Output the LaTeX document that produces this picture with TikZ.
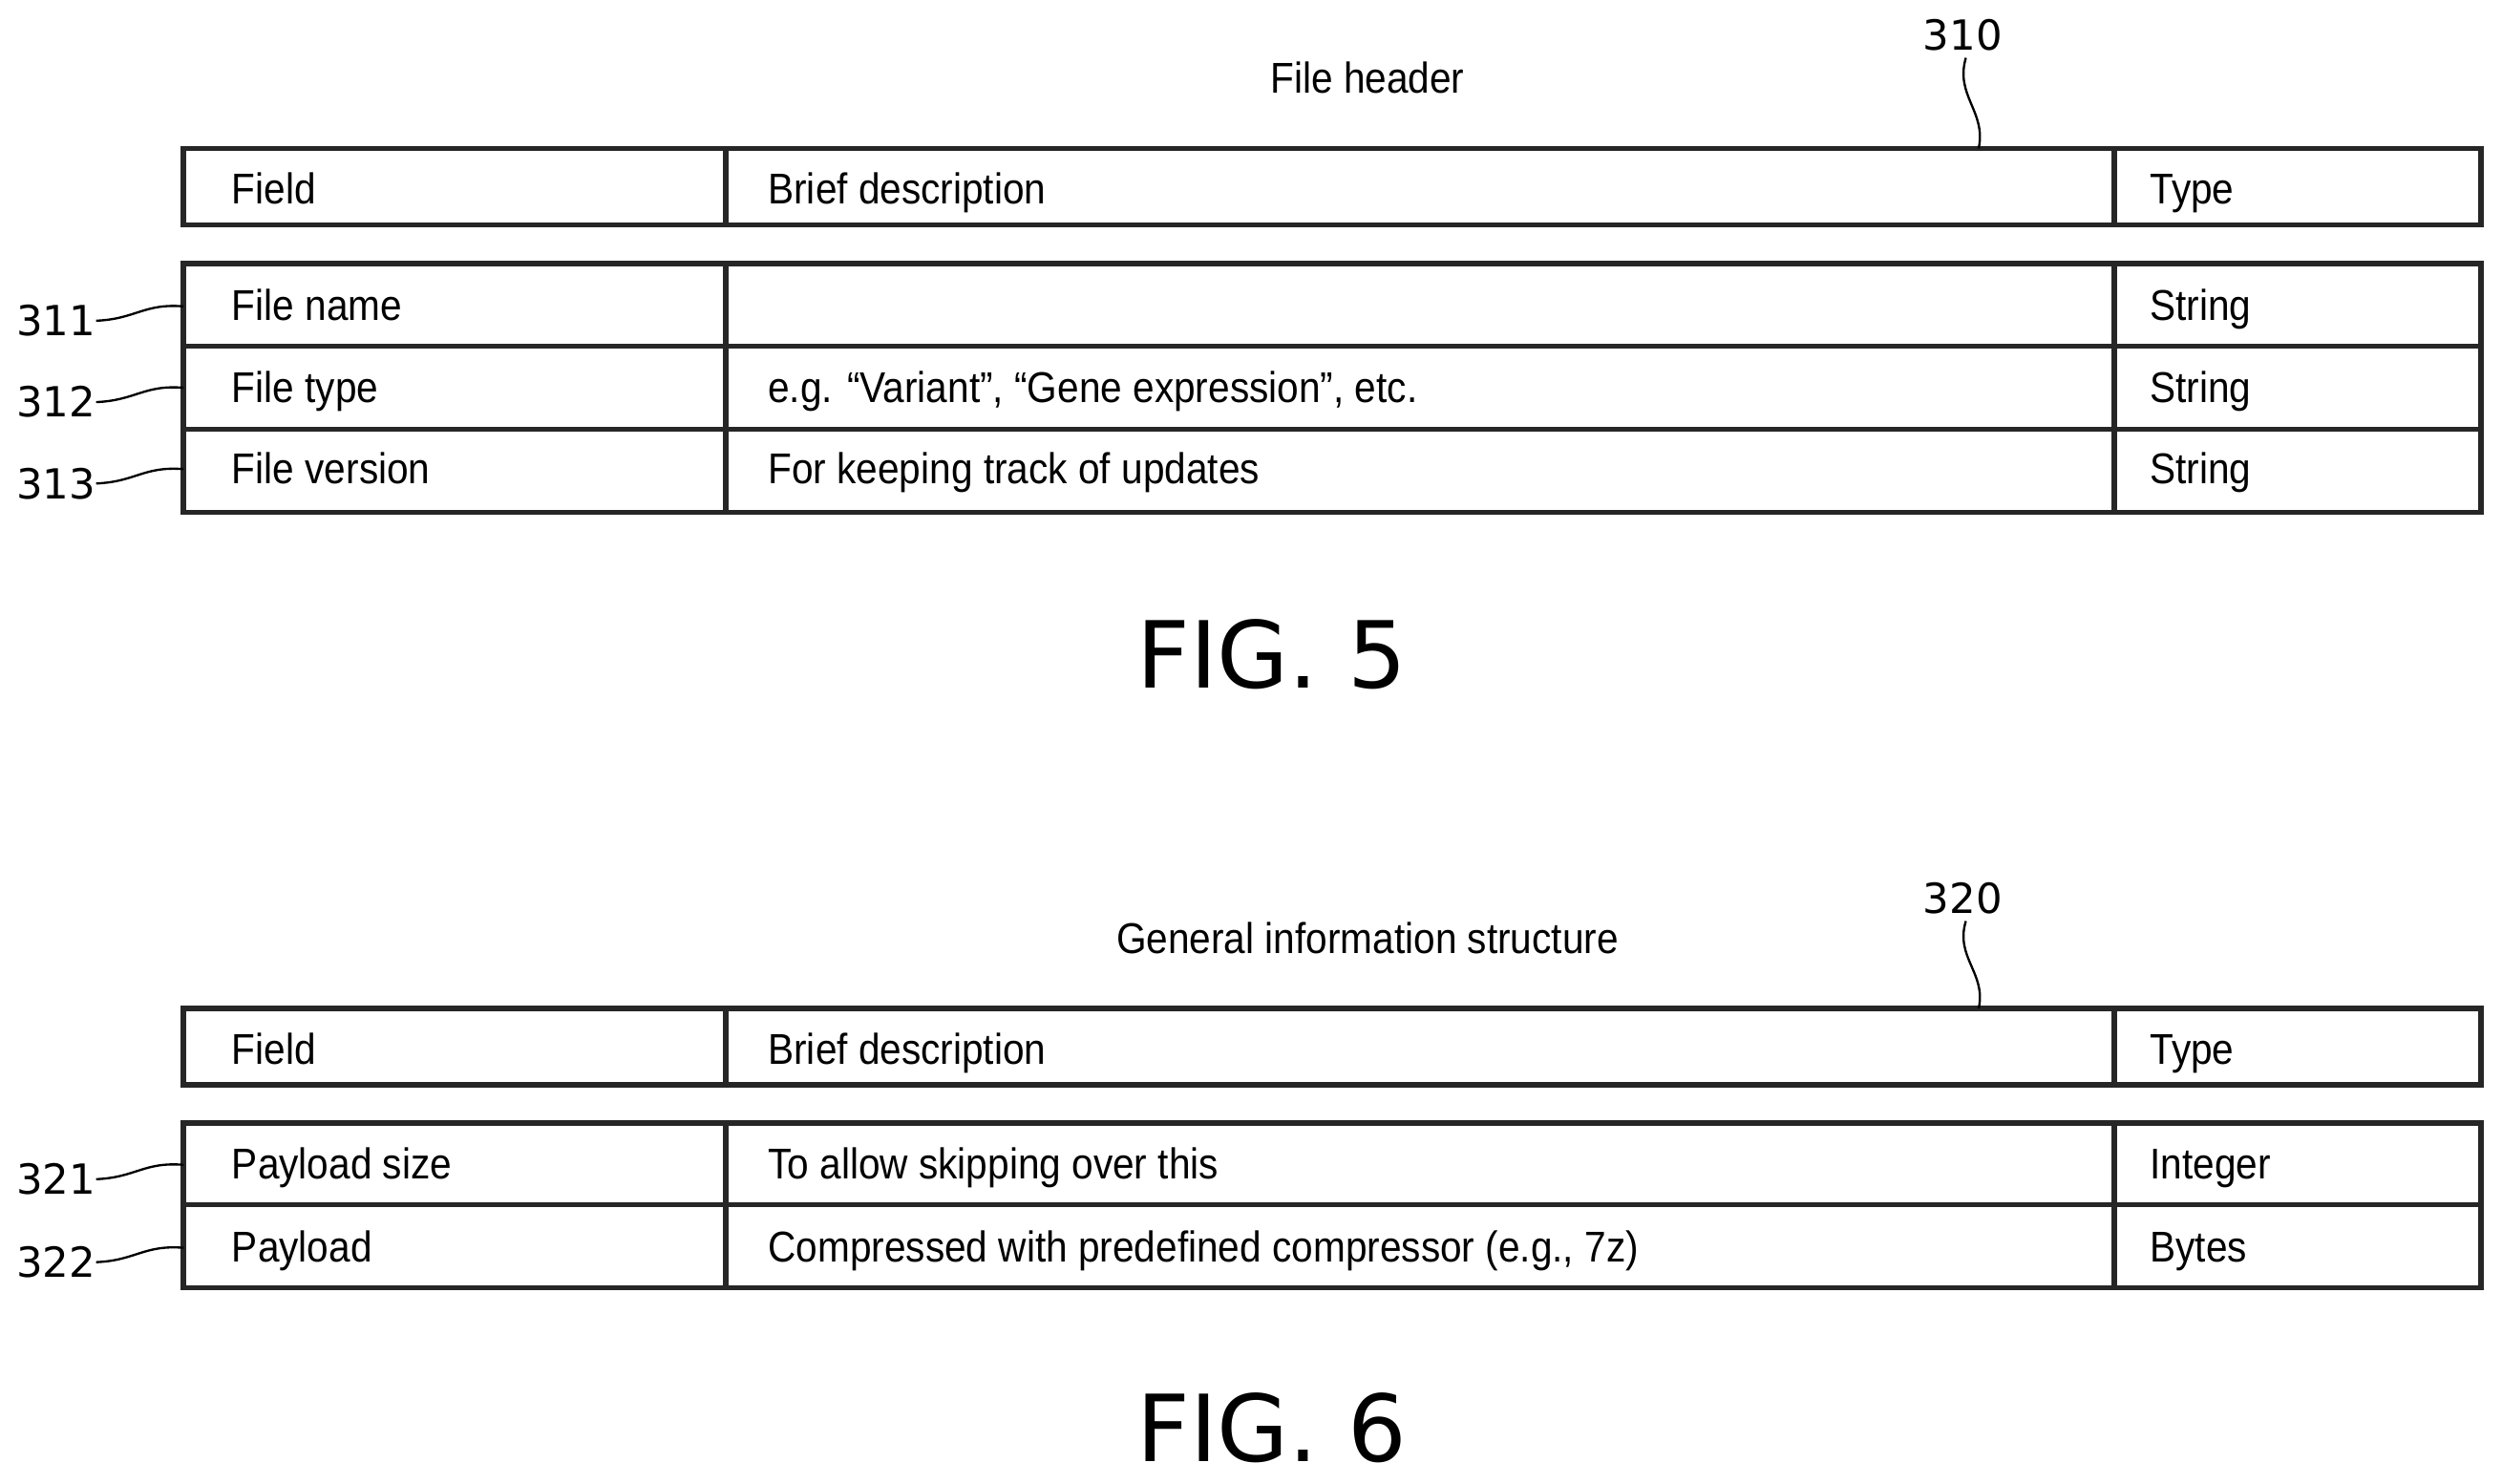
\documentclass[tikz,border=0pt]{standalone}
\usepackage{fontspec}
\setmainfont{Liberation Sans}
\newfontfamily\numfont{DejaVu Sans}
\begin{document}
\begin{tikzpicture}[x=0.5pt,y=-0.5pt,
  tb/.style={draw=black!85,line width=1.7pt},
  cell/.style={anchor=base west,inner sep=0pt,yshift=-5pt,font=\fontsize{13.5}{15}\selectfont\addfontfeature{FakeStretch=0.9}},
  ttl/.style={inner sep=0pt,font=\fontsize{13.5}{15}\selectfont\addfontfeature{FakeStretch=0.9}},
  num/.style={inner sep=0pt,font=\numfont\fontsize{13}{15}\selectfont},
  fig/.style={inner sep=0pt,font=\numfont\fontsize{29}{34}\selectfont},
  lead/.style={draw=black,line width=0.7pt}]
\useasboundingbox (0,0) rectangle (1568,930);
% ---- FIG 5
\node[ttl] (t1) at (857,49) {File header};
\node[num] (n310) at (1230,22) {310};
\draw[tb] (115,93) rectangle (1555,141);
\draw[tb] (455,93) -- (455,141) (1325,93) -- (1325,141);
\draw[tb] (115,165) rectangle (1555,321);
\draw[tb] (455,165) -- (455,321) (1325,165) -- (1325,321);
\draw[tb] (115,217) -- (1555,217) (115,269) -- (1555,269);
\coordinate (h1) at (1240,93);
\draw[lead] (n310.south) ++(2,4) .. controls (1225,60) and (1245,70) .. (h1);
\node[cell] (a1) at (145,118) {Field};
\node[cell] (a2) at (481,118) {Brief description};
\node[cell] (a3) at (1347,118) {Type};
\node[cell] (r11) at (145,191) {File name};
\node[cell] (r13) at (1347,191) {String};
\node[cell] (r21) at (145,242) {File type};
\node[cell] (r22) at (481,242) {e.g. “Variant”, “Gene expression”, etc.};
\node[cell] (r23) at (1347,242) {String};
\node[cell] (r31) at (145,293) {File version};
\node[cell] (r32) at (481,293) {For keeping track of updates};
\node[cell] (r33) at (1347,293) {String};
\node[num] (n311) at (35,201) {311};
\node[num] (n312) at (35,252) {312};
\node[num] (n313) at (35,303) {313};
\foreach \n/\y in {n311/196,n312/247,n313/298}
  \draw[lead] (\n.east) .. controls (85,\y+4) and (90,\y-6) .. (115,\y-4);
\node[fig] (f5) at (797,410) {FIG. 5};
% ---- FIG 6
\node[ttl] (t2) at (857,588) {General information structure};
\node[num] (n320) at (1230,563) {320};
\draw[tb] (115,632) rectangle (1555,680);
\draw[tb] (455,632) -- (455,680) (1325,632) -- (1325,680);
\draw[tb] (115,704) rectangle (1555,807);
\draw[tb] (455,704) -- (455,807) (1325,704) -- (1325,807);
\draw[tb] (115,755) -- (1555,755);
\coordinate (h2) at (1240,632);
\draw[lead] (n320.south) ++(2,4) .. controls (1225,600) and (1245,610) .. (h2);
\node[cell] (b1) at (145,657) {Field};
\node[cell] (b2) at (481,657) {Brief description};
\node[cell] (b3) at (1347,657) {Type};
\node[cell] (s11) at (145,729) {Payload size};
\node[cell] (s12) at (481,729) {To allow skipping over this};
\node[cell] (s13) at (1347,729) {Integer};
\node[cell] (s21) at (145,781) {Payload};
\node[cell] (s22) at (481,781) {Compressed with predefined compressor (e.g., 7z)};
\node[cell] (s23) at (1347,781) {Bytes};
\node[num] (n321) at (35,739) {321};
\node[num] (n322) at (35,791) {322};
\foreach \n/\y in {n321/734,n322/786}
  \draw[lead] (\n.east) .. controls (85,\y+4) and (90,\y-6) .. (115,\y-4);
\node[fig] (f6) at (797,895) {FIG. 6};
\end{tikzpicture}
\end{document}
